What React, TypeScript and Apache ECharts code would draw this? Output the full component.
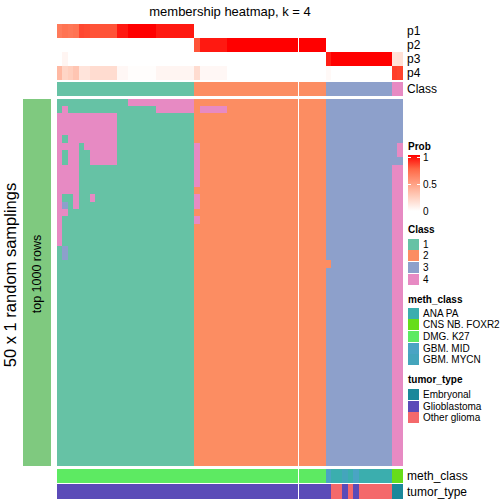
import React, { useEffect, useRef } from "react";
import * as echarts from "echarts";

const FONT = "'Liberation Sans', Arial, Helvetica, sans-serif";

// ---------- data ----------
const probRows = ["p1", "p2", "p3", "p4"];
const p1 = [
  0.66, 0.70, 0.68, 0.70, 0.83, 0.82, 0.80, 0.80, 0.80, 0.80,
  0.80, 0.94, 0.94, 1, 1, 1, 1, 1, 0.94, 0.94,
  0.94, 0.94, 0.94, 0.94, 0.94, 0, 0, 0, 0, 0,
  0, 0, 0, 0, 0, 0, 0, 0, 0, 0,
  0, 0, 0, 0, 0, 0, 0, 0, 0, 0,
  0, 0, 0, 0, 0, 0, 0, 0, 0, 0,
  0, 0, 0,
];
const p2 = [
  0, 0, 0, 0, 0, 0, 0, 0, 0, 0,
  0, 0, 0, 0, 0, 0, 0, 0, 0, 0,
  0, 0, 0, 0, 0, 0.80, 0.94, 0.94, 0.94, 0.94,
  0.94, 1, 1, 1, 1, 1, 1, 1, 1, 1,
  1, 1, 1, 1, 1, 1, 1, 1, 1, 0,
  0, 0, 0, 0, 0, 0, 0, 0, 0, 0,
  0, 0, 0,
];
const p3 = [
  0, 0.05, 0, 0, 0, 0, 0, 0, 0, 0,
  0, 0, 0, 0, 0, 0, 0, 0, 0, 0,
  0, 0, 0, 0, 0, 0, 0, 0, 0, 0,
  0, 0, 0, 0, 0, 0, 0, 0, 0, 0,
  0, 0, 0, 0, 0, 0, 0, 0, 0, 0.93,
  1, 1, 1, 1, 1, 1, 1, 1, 1, 1,
  1, 0.15, 0.16,
];
const p4 = [
  0.36, 0.22, 0.25, 0.30, 0.14, 0.14, 0.18, 0.18, 0.18, 0.18,
  0.18, 0.04, 0.04, 0.01, 0.01, 0.01, 0.01, 0.01, 0.05, 0.05,
  0.05, 0.05, 0.05, 0.05, 0.05, 0.18, 0.04, 0.04, 0.04, 0.04,
  0.04, 0, 0, 0, 0, 0, 0, 0, 0, 0,
  0, 0, 0, 0, 0, 0, 0, 0, 0, 0.03,
  0, 0, 0, 0, 0, 0, 0, 0, 0, 0,
  0, 0.85, 0.84,
];
const probValues = [p1, p2, p3, p4];

const classLabels = ["1", "2", "3", "4"];
const classColors = ["#66C2A5", "#FC8D62", "#8DA0CB", "#E78AC3"];
const sampleClass = [
  1, 1, 1, 1, 1, 1, 1, 1, 1, 1,
  1, 1, 1, 1, 1, 1, 1, 1, 1, 1,
  1, 1, 1, 1, 1, 2, 2, 2, 2, 2,
  2, 2, 2, 2, 2, 2, 2, 2, 2, 2,
  2, 2, 2, 2, 2, 2, 2, 2, 2, 3,
  3, 3, 3, 3, 3, 3, 3, 3, 3, 3,
  3, 4, 4,
];

const methClassNames = ["ANA PA", "CNS NB. FOXR2", "DMG. K27", "GBM. MID", "GBM. MYCN"];
const methClassColors = ["#3BAEAE", "#66DD1A", "#5DEA62", "#4AA4C4", "#44A5BC"];
const sampleMeth = [
  2, 2, 2, 2, 2, 2, 2, 2, 2, 2,
  2, 2, 2, 2, 2, 2, 2, 2, 2, 2,
  2, 2, 2, 2, 2, 2, 2, 2, 2, 2,
  2, 2, 2, 2, 2, 2, 2, 2, 2, 2,
  2, 2, 2, 2, 2, 2, 2, 2, 2, 3,
  0, 0, 4, 0, 3, 0, 0, 0, 0, 0,
  0, 1, 1,
];

const tumorNames = ["Embryonal", "Glioblastoma", "Other glioma"];
const tumorColors = ["#1B889A", "#5B4BB8", "#F4696B"];
const sampleTumor = [
  1, 1, 1, 1, 1, 1, 1, 1, 1, 1,
  1, 1, 1, 1, 1, 1, 1, 1, 1, 1,
  1, 1, 1, 1, 1, 1, 1, 1, 1, 1,
  1, 1, 1, 1, 1, 1, 1, 1, 1, 1,
  1, 1, 1, 1, 1, 1, 1, 1, 1, 1,
  2, 2, 1, 2, 1, 2, 2, 2, 2, 2,
  2, 0, 0,
];

// 50 samplings x 63 samples, class per cell (blocks: 25 | 24 | 12 | 2 columns)
const membershipRows = [
  "11111 11111 11144 44444 44444 | 22222 22222 22222 22222 2222 | 33333 33333 33 | 33",
  "14111 11111 11111 11144 44444 | 24444 42222 22222 22222 2222 | 33333 33333 33 | 33",
  "44444 44444 41111 11111 11111 | 22222 22222 22222 22222 2222 | 33333 33333 33 | 33",
  "44444 44444 41111 11111 11111 | 22222 22222 22222 22222 2222 | 33333 33333 33 | 33",
  "44444 44444 41111 11111 11111 | 22222 22222 22222 22222 2222 | 33333 33333 33 | 33",
  "41444 44444 41111 11111 11111 | 22222 22222 22222 22222 2222 | 33333 33333 33 | 33",
  "44441 44444 41111 11111 11111 | 42222 22222 22222 22222 2222 | 33333 33333 33 | 34",
  "41441 14444 41111 11111 11111 | 42222 22222 22222 22222 2222 | 33333 33333 33 | 34",
  "41441 14444 41111 11111 11111 | 42222 22222 22222 22222 2222 | 33333 33333 33 | 33",
  "44441 11111 11111 11111 11111 | 42222 22222 22222 22222 2222 | 33333 33333 33 | 44",
  "44441 11111 11111 11111 11111 | 42222 22222 22222 22222 2222 | 33333 33333 33 | 44",
  "44441 11111 11111 11111 11111 | 42222 22222 22222 22222 2222 | 33333 33333 33 | 44",
  "44441 11111 11111 11111 11111 | 22222 22222 22222 22222 2222 | 33333 33333 33 | 44",
  "41141 14111 11111 11111 11111 | 42222 22222 22222 22222 2222 | 33333 33333 33 | 44",
  "43141 11111 11111 11111 11111 | 42222 22222 22222 22222 2222 | 33333 33333 33 | 44",
  "44111 11111 11111 11111 11111 | 22222 22222 22222 22222 2222 | 33333 33333 33 | 44",
  "41111 11111 11111 11111 11111 | 42222 22222 22222 22222 2222 | 33333 33333 33 | 44",
  "41111 11111 11111 11111 11111 | 22222 22222 22222 22222 2222 | 33333 33333 33 | 44",
  "41111 11111 11111 11111 11111 | 22222 22222 22222 22222 2222 | 33333 33333 33 | 44",
  "41111 11111 11111 11111 11111 | 22222 22222 22222 22222 2222 | 33333 33333 33 | 44",
  "13111 11111 11111 11111 11111 | 22222 22222 22222 22222 2222 | 33333 33333 33 | 44",
  "13111 11111 11111 11111 11111 | 22222 22222 22222 22222 2222 | 33333 33333 33 | 44",
  "11111 11111 11111 11111 11111 | 22222 22222 22222 22222 2222 | 23333 33333 33 | 44",
  "11111 11111 11111 11111 11111 | 22222 22222 22222 22222 2222 | 33333 33333 33 | 44",
  "11111 11111 11111 11111 11111 | 22222 22222 22222 22222 2222 | 33333 33333 33 | 44",
  "11111 11111 11111 11111 11111 | 22222 22222 22222 22222 2222 | 33333 33333 33 | 44",
  "11111 11111 11111 11111 11111 | 22222 22222 22222 22222 2222 | 33333 33333 33 | 44",
  "11111 11111 11111 11111 11111 | 22222 22222 22222 22222 2222 | 33333 33333 33 | 44",
  "11111 11111 11111 11111 11111 | 22222 22222 22222 22222 2222 | 33333 33333 33 | 44",
  "11111 11111 11111 11111 11111 | 22222 22222 22222 22222 2222 | 33333 33333 33 | 44",
  "11111 11111 11111 11111 11111 | 22222 22222 22222 22222 2222 | 33333 33333 33 | 44",
  "11111 11111 11111 11111 11111 | 22222 22222 22222 22222 2222 | 33333 33333 33 | 44",
  "11111 11111 11111 11111 11111 | 22222 22222 22222 22222 2222 | 33333 33333 33 | 44",
  "11111 11111 11111 11111 11111 | 22222 22222 22222 22222 2222 | 33333 33333 33 | 44",
  "11111 11111 11111 11111 11111 | 22222 22222 22222 22222 2222 | 33333 33333 33 | 44",
  "11111 11111 11111 11111 11111 | 22222 22222 22222 22222 2222 | 33333 33333 33 | 44",
  "11111 11111 11111 11111 11111 | 22222 22222 22222 22222 2222 | 33333 33333 33 | 44",
  "11111 11111 11111 11111 11111 | 22222 22222 22222 22222 2222 | 33333 33333 33 | 44",
  "11111 11111 11111 11111 11111 | 22222 22222 22222 22222 2222 | 33333 33333 33 | 44",
  "11111 11111 11111 11111 11111 | 22222 22222 22222 22222 2222 | 33333 33333 33 | 44",
  "11111 11111 11111 11111 11111 | 22222 22222 22222 22222 2222 | 33333 33333 33 | 44",
  "11111 11111 11111 11111 11111 | 22222 22222 22222 22222 2222 | 33333 33333 33 | 44",
  "11111 11111 11111 11111 11111 | 22222 22222 22222 22222 2222 | 33333 33333 33 | 44",
  "11111 11111 11111 11111 11111 | 22222 22222 22222 22222 2222 | 33333 33333 33 | 44",
  "11111 11111 11111 11111 11111 | 22222 22222 22222 22222 2222 | 33333 33333 33 | 44",
  "11111 11111 11111 11111 11111 | 22222 22222 22222 22222 2222 | 33333 33333 33 | 44",
  "11111 11111 11111 11111 11111 | 22222 22222 22222 22222 2222 | 33333 33333 33 | 44",
  "11111 11111 11111 11111 11111 | 22222 22222 22222 22222 2222 | 33333 33333 33 | 44",
  "11111 11111 11111 11111 11111 | 22222 22222 22222 22222 2222 | 33333 33333 33 | 44",
  "11111 11111 11111 11111 11111 | 22222 22222 22222 22222 2222 | 33333 33333 33 | 44",
];

const probTicks = ["1", "0.5", "0"];
const probRamp = ["#ffffff", "#ffcfbe", "#ff9e81", "#ff6846", "#ff0000"];
const rowAnnotationColor = "#7FC97F";
const GAP_AFTER_COLUMN = 43;

// ---------- layout ----------
const HM_LEFT = 57;
const HM_WIDTH = 346;
const LEG_X = 408;

function buildOption() {
  const cols = sampleClass.map((_, i) => String(i));
  const parsedRows = membershipRows.map((r) => r.replace(/[^0-9]/g, "").split("").map(Number));
  const rowCats = parsedRows.map((_, i) => String(i));

  const probData: number[][] = [];
  probValues.forEach((arr, r) => arr.forEach((v, c) => probData.push([c, r, v])));
  const classData = sampleClass.map((v, c) => [c, 0, v]);
  const mainData: number[][] = [];
  parsedRows.forEach((row, r) => row.forEach((v, c) => mainData.push([c, r, v])));
  const methData = sampleMeth.map((v, c) => [c, 0, v]);
  const tumorData = sampleTumor.map((v, c) => [c, 0, v]);

  const grids = [
    { left: HM_LEFT, top: 24, width: HM_WIDTH, height: 56 },
    { left: HM_LEFT, top: 82, width: HM_WIDTH, height: 14 },
    { left: HM_LEFT, top: 99, width: HM_WIDTH, height: 367 },
    { left: HM_LEFT, top: 469, width: HM_WIDTH, height: 14 },
    { left: HM_LEFT, top: 484, width: HM_WIDTH, height: 15 },
    { left: 23, top: 99, width: 28, height: 367 },
  ];

  const xAxes = grids.map((_, i) => ({
    type: "category",
    gridIndex: i,
    data: i === 5 ? ["0"] : cols,
    show: false,
  }));

  const rightLabel = {
    show: true,
    interval: 0,
    fontSize: 12,
    color: "#000",
    fontFamily: FONT,
    margin: 4,
  };
  const yAxes = [
    { type: "category", gridIndex: 0, data: probRows, inverse: true, position: "right", axisLine: { show: false }, axisTick: { show: false }, axisLabel: rightLabel },
    { type: "category", gridIndex: 1, data: ["Class"], position: "right", axisLine: { show: false }, axisTick: { show: false }, axisLabel: rightLabel },
    { type: "category", gridIndex: 2, data: rowCats, inverse: true, show: false },
    { type: "category", gridIndex: 3, data: ["meth_class"], position: "right", axisLine: { show: false }, axisTick: { show: false }, axisLabel: rightLabel },
    { type: "category", gridIndex: 4, data: ["tumor_type"], position: "right", axisLine: { show: false }, axisTick: { show: false }, axisLabel: rightLabel },
    { type: "category", gridIndex: 5, data: ["0"], show: false },
  ];

  const hm = (i: number, data: any[]) => ({
    type: "heatmap",
    xAxisIndex: i,
    yAxisIndex: i,
    data,
    emphasis: { disabled: true },
    silent: true,
  });

  const series = [
    hm(0, probData),
    hm(1, classData),
    hm(2, mainData),
    hm(3, methData),
    hm(4, tumorData),
    hm(5, [[0, 0, 0]]),
  ];

  const visualMap = [
    { type: "continuous", min: 0, max: 1, seriesIndex: 0, dimension: 2, show: false, inRange: { color: probRamp } },
    { type: "piecewise", seriesIndex: [1, 2], dimension: 2, show: false, pieces: classColors.map((c, i) => ({ value: i + 1, color: c })) },
    { type: "piecewise", seriesIndex: 3, dimension: 2, show: false, pieces: methClassColors.map((c, i) => ({ value: i, color: c })) },
    { type: "piecewise", seriesIndex: 4, dimension: 2, show: false, pieces: tumorColors.map((c, i) => ({ value: i, color: c })) },
    { type: "piecewise", seriesIndex: 5, dimension: 2, show: false, pieces: [{ value: 0, color: rowAnnotationColor }] },
  ];

  let gid = 0;
  const els: any[] = [];
  const txt = (x: number, y: number, text: string, size: number, bold = false) => {
    els.push({
      id: "g" + gid++,
      type: "text",
      x,
      y,
      z: 100,
      silent: true,
      style: {
        text,
        fontSize: size,
        fontWeight: bold ? "bold" : "normal",
        fontFamily: FONT,
        fill: "#000",
        align: "left",
        verticalAlign: "middle",
      },
    });
  };
  const box = (x: number, y: number, w: number, h: number, fill: any) => {
    els.push({ id: "g" + gid++, type: "rect", z: 100, silent: true, shape: { x, y, width: w, height: h }, style: { fill } });
  };

  // title
  els.push({
    id: "title",
    type: "text",
    x: 230,
    y: 11,
    z: 100,
    style: { text: "membership heatmap, k = 4", fontSize: 13, fontFamily: FONT, fill: "#000", align: "center", verticalAlign: "middle" },
  });
  // left texts
  els.push({
    id: "ylab",
    type: "text",
    x: 10,
    y: 275,
    z: 100,
    rotation: Math.PI / 2,
    style: { text: "50 x 1 random samplings", fontSize: 16.5, fontFamily: FONT, fill: "#000", align: "center", verticalAlign: "middle" },
  });
  els.push({
    id: "toprows",
    type: "text",
    x: 37,
    y: 274,
    z: 100,
    rotation: Math.PI / 2,
    style: { text: "top 1000 rows", fontSize: 12.5, fontFamily: FONT, fill: "#000", align: "center", verticalAlign: "middle" },
  });

  // Prob legend
  txt(LEG_X, 146, "Prob", 10, true);
  box(LEG_X, 155, 12, 56, {
    type: "linear",
    x: 0,
    y: 0,
    x2: 0,
    y2: 1,
    colorStops: probRamp.slice().reverse().map((c, i) => ({ offset: i / (probRamp.length - 1), color: c })),
  });
  const tickY = [157, 184, 211];
  probTicks.forEach((t, i) => {
    txt(LEG_X + 15, tickY[i], t, 10);
    if (i < 2) {
      box(LEG_X, tickY[i] - 0.5, 3, 1, "#ffffff");
      box(LEG_X + 9, tickY[i] - 0.5, 3, 1, "#ffffff");
    }
  });

  const legendBlock = (title: string, titleY: number, names: string[], colors: string[], firstY: number) => {
    txt(LEG_X, titleY, title, 10, true);
    names.forEach((n, i) => {
      const cy = firstY + i * 11.6;
      box(LEG_X, cy - 5.5, 11, 11, colors[i]);
      txt(LEG_X + 15, cy, n, 10);
    });
  };
  legendBlock("Class", 229, classLabels, classColors, 244.2);
  legendBlock("meth_class", 299, methClassNames, methClassColors, 313.3);
  legendBlock("tumor_type", 379.5, tumorNames, tumorColors, 394.7);

  els.push({ id: "gap", type: "rect", silent: true, shape: { x: -10, y: 24, width: 1, height: 475 }, style: { fill: "#ffffff" }, z: 100 });

  return {
    animation: false,
    backgroundColor: "#ffffff",
    grid: grids,
    xAxis: xAxes,
    yAxis: yAxes,
    visualMap,
    series,
    graphic: { elements: els },
  };
}

export default function App() {
  const ref = useRef<HTMLDivElement>(null);
  useEffect(() => {
    if (!ref.current) return;
    const chart = echarts.init(ref.current, undefined, { renderer: "svg" });
    chart.setOption(buildOption() as any);
    const a = chart.convertToPixel({ xAxisIndex: 2 } as any, GAP_AFTER_COLUMN) as any;
    const b = chart.convertToPixel({ xAxisIndex: 2 } as any, GAP_AFTER_COLUMN + 1) as any;
    const gx = (Number(a) + Number(b)) / 2;
    chart.setOption({
      graphic: { elements: [{ id: "gap", type: "rect", shape: { x: gx - 0.6, y: 24, width: 1.2, height: 475 }, style: { fill: "#ffffff" }, z: 100 }] },
    } as any);
    return () => chart.dispose();
  }, []);
  return (
    <>
      <style>{".hmchart svg path { shape-rendering: crispEdges; }"}</style>
      <div className="hmchart" ref={ref} style={{ position: "absolute", left: 0, top: 0, width: 504, height: 504 }} />
    </>
  );
}
